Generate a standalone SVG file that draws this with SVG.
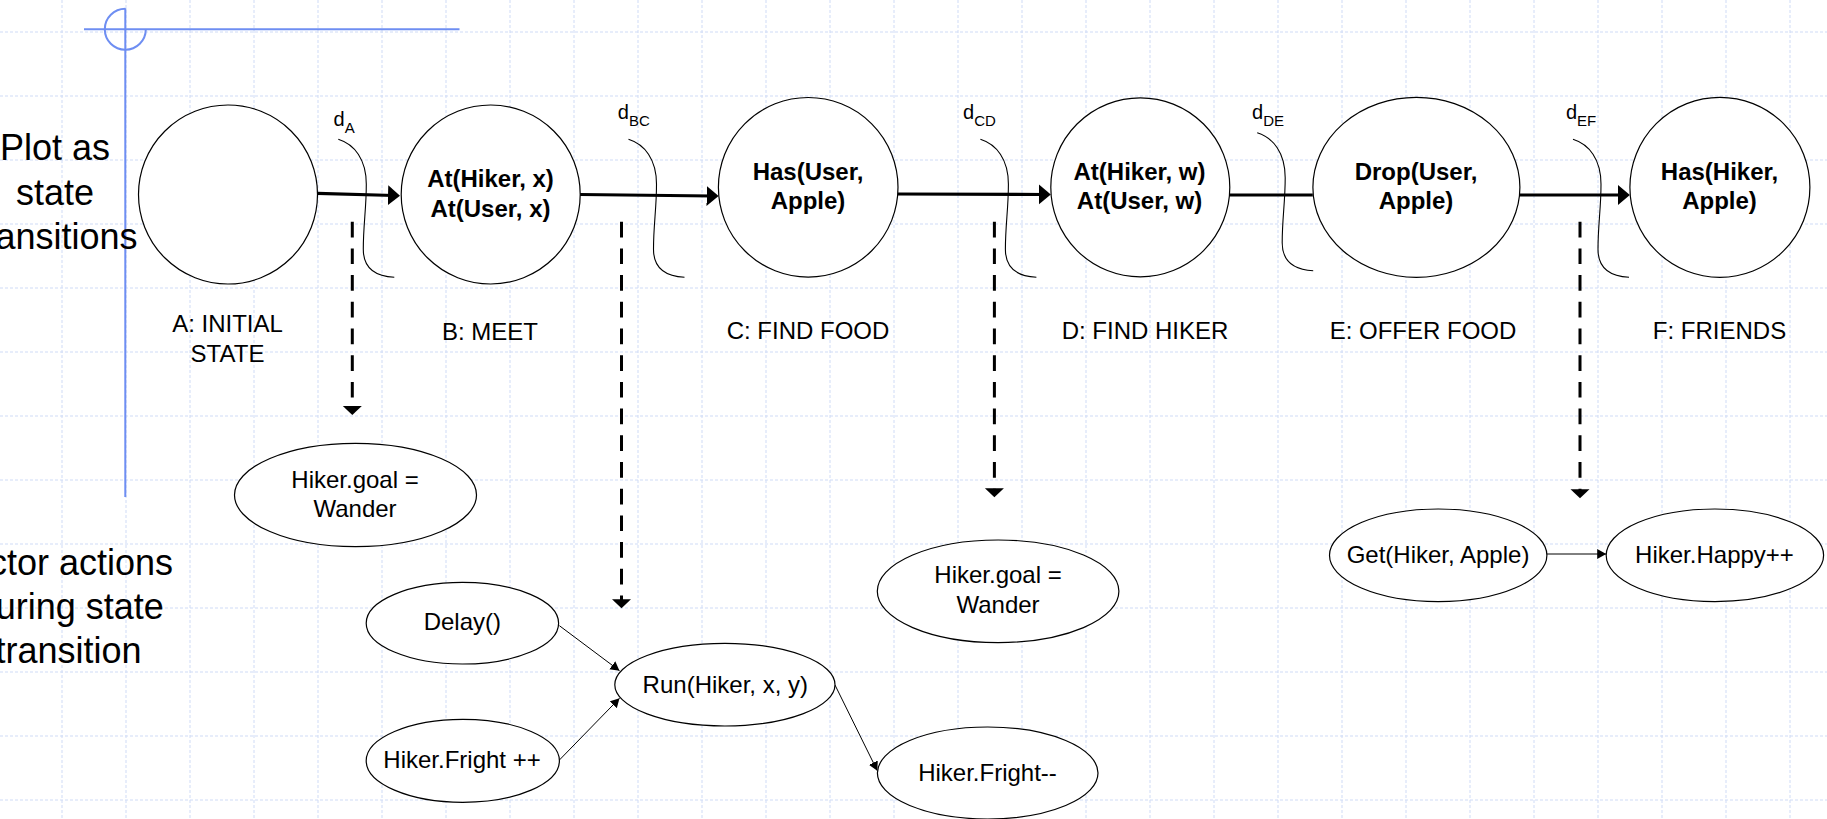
<svg xmlns="http://www.w3.org/2000/svg" xmlns:xlink="http://www.w3.org/1999/xlink" width="1827" height="819" viewBox="0 0 1827 819">
  <style>
    .grid line { stroke: #cfdbf6; stroke-width: 1; stroke-dasharray: 3 2; }
    .guide { stroke: #6e8ef2; stroke-width: 2; fill: none; }
    .state { fill: #ffffff; stroke: #000000; stroke-width: 1.2; }
    .action { fill: #ffffff; stroke: #000000; stroke-width: 1.2; }
    .brace { fill: none; stroke: #000000; stroke-width: 1.1; }
    .flow { stroke: #000000; stroke-width: 3.2; fill: none; }
    .drop { stroke: #000000; stroke-width: 3; fill: none; stroke-dasharray: 15.7 11; }
    .thin { stroke: #000000; stroke-width: 1; fill: none; }
    text { font-family: "Liberation Sans", Arial, Helvetica, sans-serif; fill: #000000; }
    .big { font-size: 36px; }
    .bold { font-size: 24px; font-weight: bold; text-anchor: middle; }
    .lbl { font-size: 24px; text-anchor: middle; }
    .d { font-size: 20px; }
    .sub { font-size: 15px; }
  </style>
  <defs>
    <marker id="headBig" markerUnits="userSpaceOnUse" markerWidth="13" markerHeight="21" refX="6" refY="10" orient="auto">
      <path d="M0,0 L12,10 L0,20 Z" fill="#000"/>
    </marker>
    <marker id="headDrop" markerUnits="userSpaceOnUse" markerWidth="10" markerHeight="20" refX="3" refY="9.5" orient="auto">
      <path d="M0,0 L9,9.5 L0,19 Z" fill="#000"/>
    </marker>
    <marker id="headSmall" markerUnits="userSpaceOnUse" markerWidth="10" markerHeight="11" refX="9" refY="5" orient="auto">
      <path d="M0,0 L9,5 L0,10 Z" fill="#000"/>
    </marker>
    <path id="braceShape" class="brace" d="M0,0 C16,5 28,20 28,45 C28,70 25,85 25,110 C25,128 36,137 56,138"/>
  </defs>

  <!-- background grid -->
  <g class="grid">
    <line x1="62" y1="0" x2="62" y2="819"/><line x1="126" y1="0" x2="126" y2="819"/>
    <line x1="190" y1="0" x2="190" y2="819"/><line x1="254" y1="0" x2="254" y2="819"/>
    <line x1="318" y1="0" x2="318" y2="819"/><line x1="382" y1="0" x2="382" y2="819"/>
    <line x1="446" y1="0" x2="446" y2="819"/><line x1="510" y1="0" x2="510" y2="819"/>
    <line x1="574" y1="0" x2="574" y2="819"/><line x1="638" y1="0" x2="638" y2="819"/>
    <line x1="702" y1="0" x2="702" y2="819"/><line x1="766" y1="0" x2="766" y2="819"/>
    <line x1="830" y1="0" x2="830" y2="819"/><line x1="894" y1="0" x2="894" y2="819"/>
    <line x1="958" y1="0" x2="958" y2="819"/><line x1="1022" y1="0" x2="1022" y2="819"/>
    <line x1="1086" y1="0" x2="1086" y2="819"/><line x1="1150" y1="0" x2="1150" y2="819"/>
    <line x1="1214" y1="0" x2="1214" y2="819"/><line x1="1278" y1="0" x2="1278" y2="819"/>
    <line x1="1342" y1="0" x2="1342" y2="819"/><line x1="1406" y1="0" x2="1406" y2="819"/>
    <line x1="1470" y1="0" x2="1470" y2="819"/><line x1="1534" y1="0" x2="1534" y2="819"/>
    <line x1="1598" y1="0" x2="1598" y2="819"/><line x1="1662" y1="0" x2="1662" y2="819"/>
    <line x1="1726" y1="0" x2="1726" y2="819"/><line x1="1790" y1="0" x2="1790" y2="819"/>
    <line x1="0" y1="32" x2="1827" y2="32"/><line x1="0" y1="96" x2="1827" y2="96"/>
    <line x1="0" y1="160" x2="1827" y2="160"/><line x1="0" y1="224" x2="1827" y2="224"/>
    <line x1="0" y1="288" x2="1827" y2="288"/><line x1="0" y1="352" x2="1827" y2="352"/>
    <line x1="0" y1="416" x2="1827" y2="416"/><line x1="0" y1="480" x2="1827" y2="480"/>
    <line x1="0" y1="544" x2="1827" y2="544"/><line x1="0" y1="608" x2="1827" y2="608"/>
    <line x1="0" y1="672" x2="1827" y2="672"/><line x1="0" y1="736" x2="1827" y2="736"/>
    <line x1="0" y1="800" x2="1827" y2="800"/>
  </g>

  <!-- slide guide cross -->
  <g id="guide">
    <line class="guide" x1="84" y1="29.3" x2="459.5" y2="29.3"/>
    <line class="guide" x1="125.3" y1="8.3" x2="125.3" y2="497"/>
    <path class="guide" d="M125.3,8.8 A20.5,20.5 0 1 0 145.8,29.3"/>
  </g>

  <!-- side captions -->
  <g id="caption-top" class="big">
    <text x="55" y="160" text-anchor="middle">Plot as</text>
    <text x="55" y="205" text-anchor="middle">state</text>
    <text x="137.6" y="249" text-anchor="end">ansitions</text>
  </g>
  <g id="caption-bottom" class="big">
    <text x="173" y="575" text-anchor="end">ctor actions</text>
    <text x="163.8" y="619.3" text-anchor="end">uring state</text>
    <text x="141.6" y="662.7" text-anchor="end">transition</text>
  </g>

  <!-- connectors -->
  <g id="connectors">
    <line class="flow" x1="317.5" y1="193.3" x2="394" y2="195.5" marker-end="url(#headBig)"/>
    <line class="flow" x1="580" y1="194.5" x2="712.6" y2="196" marker-end="url(#headBig)"/>
    <line class="flow" x1="897.7" y1="194" x2="1044.8" y2="194.5" marker-end="url(#headBig)"/>
    <line class="flow" x1="1230" y1="195" x2="1312.8" y2="195"/>
    <line class="flow" x1="1519.9" y1="195" x2="1623.9" y2="195" marker-end="url(#headBig)"/>

    <line class="drop" x1="352.3" y1="221.7" x2="352.3" y2="409" marker-end="url(#headDrop)"/>
    <line class="drop" x1="621.5" y1="221.7" x2="621.5" y2="602.3" marker-end="url(#headDrop)"/>
    <line class="drop" x1="994.4" y1="221.7" x2="994.4" y2="491.3" marker-end="url(#headDrop)"/>
    <line class="drop" x1="1580" y1="221.7" x2="1580" y2="492.3" marker-end="url(#headDrop)"/>

    <line class="thin" x1="559.4" y1="625.7" x2="619.5" y2="670.7" marker-end="url(#headSmall)"/>
    <line class="thin" x1="559.4" y1="760" x2="619.5" y2="698.3" marker-end="url(#headSmall)"/>
    <line class="thin" x1="835" y1="685" x2="877.3" y2="770.7" marker-end="url(#headSmall)"/>
    <line class="thin" x1="1546.9" y1="554" x2="1606.2" y2="554" marker-end="url(#headSmall)"/>
  </g>

  <!-- transition delay braces -->
  <g id="delays">
    <use xlink:href="#braceShape" transform="translate(338.3,139.3)"/>
    <use xlink:href="#braceShape" transform="translate(628.5,139.3)"/>
    <use xlink:href="#braceShape" transform="translate(980.4,139.3)"/>
    <use xlink:href="#braceShape" transform="translate(1257.2,132.7)"/>
    <use xlink:href="#braceShape" transform="translate(1573,139.3)"/>
    <text class="d" x="333.5" y="126">d<tspan class="sub" dy="7">A</tspan></text>
    <text class="d" x="617.8" y="119.3">d<tspan class="sub" dy="7">BC</tspan></text>
    <text class="d" x="963" y="119.3">d<tspan class="sub" dy="7">CD</tspan></text>
    <text class="d" x="1252" y="119.3">d<tspan class="sub" dy="7">DE</tspan></text>
    <text class="d" x="1565.9" y="119.3">d<tspan class="sub" dy="7">EF</tspan></text>
  </g>

  <!-- states -->
  <g id="stateA">
    <circle class="state" cx="228" cy="194.5" r="89.5"/>
    <text class="lbl" x="227.5" y="332.3">A: INITIAL</text>
    <text class="lbl" x="227.5" y="361.7">STATE</text>
  </g>
  <g id="stateB">
    <circle class="state" cx="490.7" cy="194.5" r="89.5"/>
    <text class="bold" x="490.5" y="187.3">At(Hiker, x)</text>
    <text class="bold" x="490.5" y="216.7">At(User, x)</text>
    <text class="lbl" x="490" y="340">B: MEET</text>
  </g>
  <g id="stateC">
    <circle class="state" cx="808.2" cy="187.3" r="89.8"/>
    <text class="bold" x="808" y="180">Has(User,</text>
    <text class="bold" x="808" y="209">Apple)</text>
    <text class="lbl" x="808" y="339.3">C: FIND FOOD</text>
  </g>
  <g id="stateD">
    <circle class="state" cx="1140.3" cy="187.3" r="89.5"/>
    <text class="bold" x="1139.5" y="180">At(Hiker, w)</text>
    <text class="bold" x="1139.5" y="209">At(User, w)</text>
    <text class="lbl" x="1145" y="339.3">D: FIND HIKER</text>
  </g>
  <g id="stateE">
    <ellipse class="state" cx="1416.4" cy="187.3" rx="103.5" ry="90"/>
    <text class="bold" x="1416" y="180">Drop(User,</text>
    <text class="bold" x="1416" y="209">Apple)</text>
    <text class="lbl" x="1423" y="339.3">E: OFFER FOOD</text>
  </g>
  <g id="stateF">
    <circle class="state" cx="1719.9" cy="187.3" r="90"/>
    <text class="bold" x="1719.5" y="180">Has(Hiker,</text>
    <text class="bold" x="1719.5" y="209">Apple)</text>
    <text class="lbl" x="1719.5" y="339.3">F: FRIENDS</text>
  </g>

  <!-- actor actions -->
  <g id="goalA">
    <ellipse class="action" cx="355.5" cy="495" rx="121" ry="51.7"/>
    <text class="lbl" x="355" y="488.3">Hiker.goal =</text>
    <text class="lbl" x="355" y="516.7">Wander</text>
  </g>
  <g id="delay">
    <ellipse class="action" cx="462.4" cy="623.2" rx="96.2" ry="40.8"/>
    <text class="lbl" x="462.3" y="630">Delay()</text>
  </g>
  <g id="frightUp">
    <ellipse class="action" cx="462.8" cy="760.8" rx="96.6" ry="41.5"/>
    <text class="lbl" x="462" y="768.3">Hiker.Fright ++</text>
  </g>
  <g id="run">
    <ellipse class="action" cx="724.9" cy="684.7" rx="110.1" ry="41.3"/>
    <text class="lbl" x="725.3" y="693.3">Run(Hiker, x, y)</text>
  </g>
  <g id="frightDown">
    <ellipse class="action" cx="987.7" cy="773" rx="110.3" ry="46"/>
    <text class="lbl" x="987.5" y="781">Hiker.Fright--</text>
  </g>
  <g id="goalD">
    <ellipse class="action" cx="998.1" cy="591.3" rx="120.8" ry="51.3"/>
    <text class="lbl" x="998" y="583.3">Hiker.goal =</text>
    <text class="lbl" x="998" y="613.3">Wander</text>
  </g>
  <g id="getApple">
    <ellipse class="action" cx="1438.2" cy="555.3" rx="108.7" ry="46.3"/>
    <text class="lbl" x="1438" y="563.3">Get(Hiker, Apple)</text>
  </g>
  <g id="happy">
    <ellipse class="action" cx="1714.9" cy="555.3" rx="108.7" ry="46.3"/>
    <text class="lbl" x="1714.5" y="563.3">Hiker.Happy++</text>
  </g>
</svg>
